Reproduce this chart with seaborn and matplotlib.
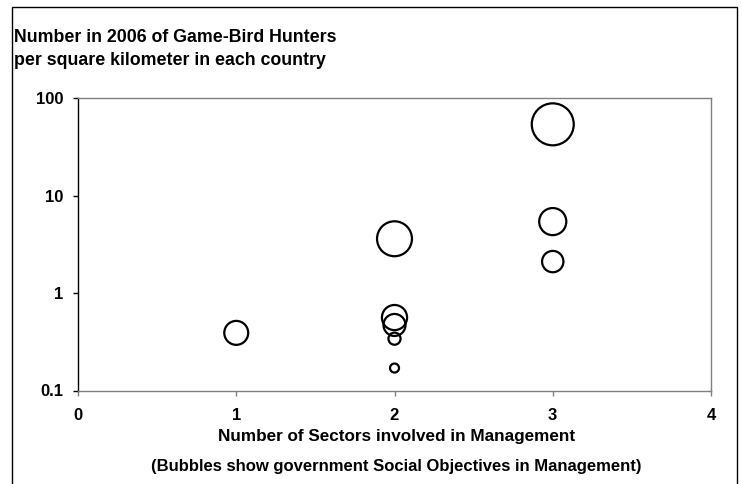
import matplotlib
matplotlib.use("Agg")
import matplotlib.pyplot as plt
from matplotlib.patches import Rectangle
import seaborn as sns
import pandas as pd

# Data
sectors = [1, 2, 2, 2, 2, 2, 3, 3, 3]
hunters_per_km2 = [0.39, 3.6, 0.56, 0.47, 0.34, 0.17, 53.7, 5.4, 2.1]
social_objectives = [3.9, 8.3, 4.3, 3.3, 1.0, 0.55, 12.0, 5.0, 3.1]

y_ticks = [0.1, 1, 10, 100]
y_tick_labels = ["0.1", "1", "10", "100"]
x_ticks = [0, 1, 2, 3, 4]
x_tick_labels = ["0", "1", "2", "3", "4"]

title_lines = ["Number in 2006 of Game-Bird Hunters",
               "per square kilometer in each country"]
xlabel_lines = ["Number of Sectors involved in Management",
                "(Bubbles show government Social Objectives in Management)"]

df = pd.DataFrame({"sectors": sectors, "hunters": hunters_per_km2,
                   "social": social_objectives})

sns.set_theme(style="white")
plt.rcParams["font.family"] = ["Liberation Sans", "DejaVu Sans"]
plt.rcParams["font.weight"] = "bold"

W, H = 742, 484
fig = plt.figure(figsize=(W / 100, H / 100), dpi=100)
ax = fig.add_axes([78 / W, 1 - 390.5 / H, (711 - 78) / W, (390.5 - 98) / H])

sns.scatterplot(data=df, x="sectors", y="hunters", size="social",
                sizes=(0, 914), size_norm=(0, 12), legend=False,
                facecolor="none", edgecolor="black", linewidth=1.6,
                ax=ax, clip_on=False, zorder=3)

ax.set_yscale("log")
ax.set_ylim(0.1, 100)
ax.set_xlim(0, 4)
ax.set_yticks(y_ticks)
ax.set_yticklabels(y_tick_labels)
ax.minorticks_off()
ax.set_xticks(x_ticks)
ax.set_xticklabels(x_tick_labels)
ax.set_xlabel("")
ax.set_ylabel("")

for side in ["top", "right", "bottom"]:
    ax.spines[side].set_color("#808080")
    ax.spines[side].set_linewidth(1.0)
ax.spines["left"].set_color("black")
ax.spines["left"].set_linewidth(1.0)

ax.tick_params(axis="y", which="major", direction="out", length=3.5, width=1,
               color="black", pad=7, labelsize=12, labelcolor="black")
ax.tick_params(axis="x", which="major", direction="out", length=3.5, width=1,
               color="#808080", pad=9, labelsize=12, labelcolor="black")
ax.tick_params(left=True, bottom=True)
for lab in ax.get_xticklabels() + ax.get_yticklabels():
    lab.set_fontweight("bold")

# Title lines
fig.text(14 / W, 1 - 42 / H, title_lines[0], fontsize=12.8, fontweight="bold",
         ha="left", va="baseline", color="black")
fig.text(14 / W, 1 - 65 / H, title_lines[1], fontsize=12.8, fontweight="bold",
         ha="left", va="baseline", color="black")

# X-axis label lines
fig.text(397 / W, 1 - 437 / H, xlabel_lines[0], fontsize=12.3, fontweight="bold",
         ha="center", va="center", color="black")
fig.text(396 / W, 1 - 466 / H, xlabel_lines[1], fontsize=12, fontweight="bold",
         ha="center", va="center", color="black")

# Outer chart-area border
fig.patches.append(Rectangle((12.5 / W, -0.05), (737 - 12.5) / W,
                             1.05 - 7.5 / H, transform=fig.transFigure,
                             fill=False, edgecolor="black", linewidth=1.0))

fig.savefig("out.png", dpi=100)
